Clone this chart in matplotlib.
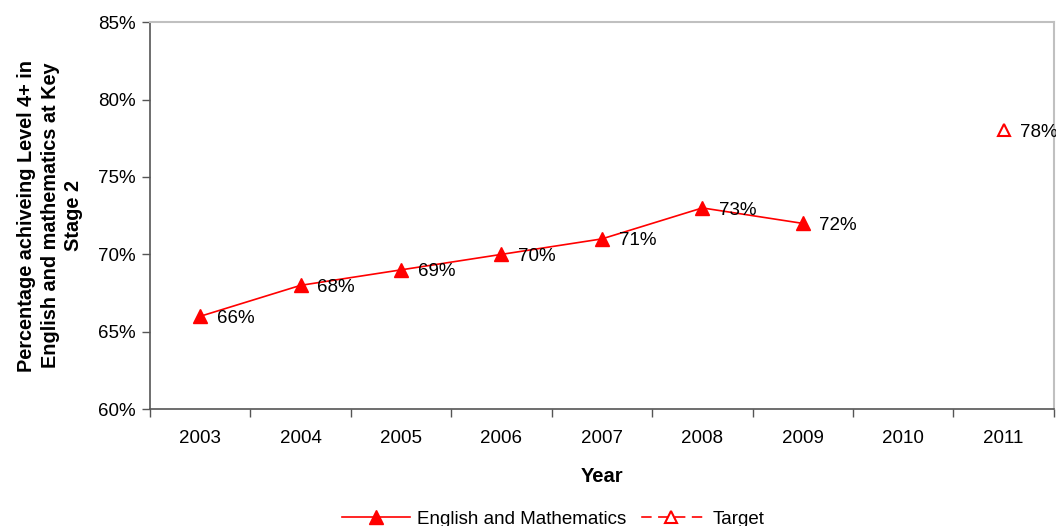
import matplotlib
matplotlib.use("Agg")
import matplotlib.pyplot as plt
from matplotlib.ticker import FuncFormatter, FixedLocator, NullFormatter

plt.rcParams["font.family"] = ["Liberation Sans", "DejaVu Sans"]

years = ["2003", "2004", "2005", "2006", "2007", "2008", "2009", "2010", "2011"]
actual_years = ["2003", "2004", "2005", "2006", "2007", "2008", "2009"]
actual_values = [66, 68, 69, 70, 71, 73, 72]
target_years = ["2011"]
target_values = [78]

fig = plt.figure(figsize=(10.56, 5.26), dpi=100)
ax = fig.add_axes([0.142, 0.222, 0.856, 0.736])

pos = {y: i for i, y in enumerate(years)}
ax_x = [pos[y] for y in actual_years]
tg_x = [pos[y] for y in target_years]

red = "#ff0000"
ax.plot(ax_x, actual_values, color=red, lw=1.2, marker="^", ms=10,
        mfc=red, mec=red, label="English and Mathematics")
ax.plot(tg_x, target_values, color=red, lw=1.2, ls=(8.2, (6.25, 3.875)), marker="^", ms=9,
        mfc="white", mec=red, mew=1.5, label="Target")

for x, v in zip(ax_x + tg_x, actual_values + target_values):
    ax.annotate(f"{v}%", (x, v), xytext=(12, -1.5), textcoords="offset points",
                ha="left", va="center", fontsize=13.5, color="black")

ax.set_xlim(-0.5, len(years) - 0.5)
ax.set_ylim(60, 85)
ax.set_yticks([60, 65, 70, 75, 80, 85])
ax.yaxis.set_major_formatter(FuncFormatter(lambda v, p: f"{v:.0f}%"))

ax.xaxis.set_major_locator(FixedLocator([i - 0.5 for i in range(len(years) + 1)]))
ax.xaxis.set_major_formatter(NullFormatter())
ax.xaxis.set_minor_locator(FixedLocator(list(range(len(years)))))
ax.set_xticklabels(years, minor=True)
ax.tick_params(axis="x", which="minor", length=0, pad=15, labelsize=13.5)
ax.tick_params(axis="x", which="major", length=6, width=1, color="#555555", direction="out")
ax.tick_params(axis="y", length=6, width=1, color="#555555", labelsize=13.5, pad=4)

for s in ["left", "bottom"]:
    ax.spines[s].set_color("#555555")
    ax.spines[s].set_linewidth(1.2)
for s in ["top", "right"]:
    ax.spines[s].set_color("#c0c0c0")
    ax.spines[s].set_linewidth(1.5)

ax.set_xlabel("Year", fontsize=14.5, fontweight="bold", labelpad=14)
ax.set_ylabel("Percentage achiveing Level 4+ in\nEnglish and mathematics at Key\nStage 2",
              fontsize=14.3, fontweight="bold", labelpad=11, linespacing=1.3)

fig.legend(loc="center", bbox_to_anchor=(0.524, 0.013), ncol=2, frameon=False,
           fontsize=13.5, handlelength=3.6, columnspacing=0.6, handletextpad=0.4)

fig.savefig("out.png", dpi=100)
